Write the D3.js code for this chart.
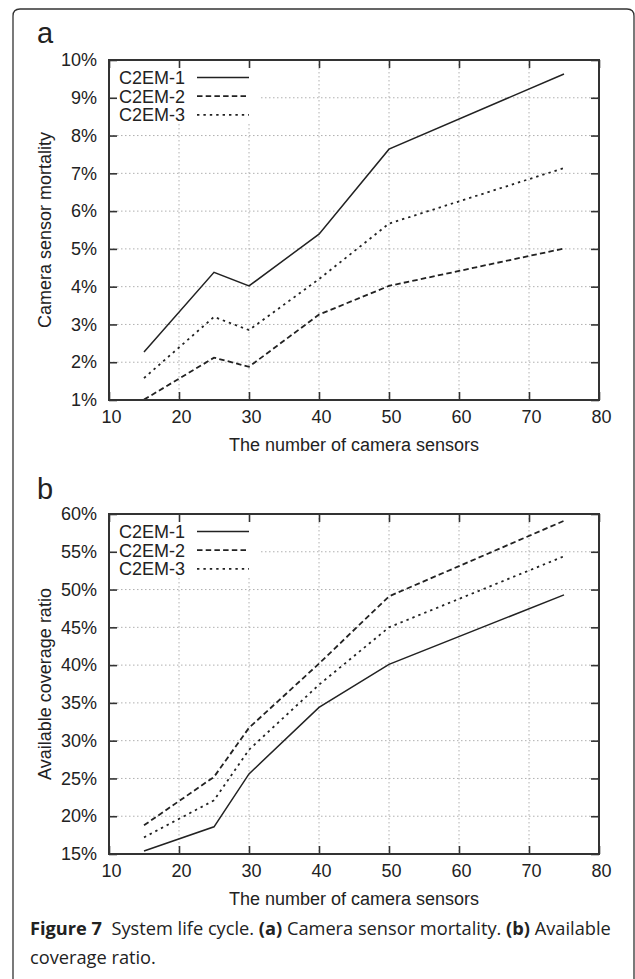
<!DOCTYPE html>
<html lang="en">
<head>
    <meta charset="UTF-8">
    <title>Figure 7</title>
    <style>
        body { margin: 0; background: #fff; }
        svg { display: block; }
        text { fill: #222; }
        .chart text { font-family: "Liberation Sans", Arial, Helvetica, sans-serif; }
        .chart text.caption { font-family: "Open Sans", "Noto Sans", sans-serif; }
    </style>
    <script src="https://d3js.org/d3.v7.min.js"></script>
</head>
<body>
    <div id="chart"></div>

    <script>
        // data
        const sensors = [15, 25, 30, 40, 50, 75]
        const seriesNames = ["C2EM-1", "C2EM-2", "C2EM-3"]

        const mortality1 = [2.27, 4.38, 4.02, 5.39, 7.64, 9.63]
        const mortality2 = [1.01, 2.12, 1.88, 3.26, 4.02, 5.01]
        const mortality3 = [1.58, 3.20, 2.85, 4.20, 5.67, 7.14]

        const coverage1 = [15.4, 18.6, 25.6, 34.4, 40.1, 49.3]
        const coverage2 = [18.8, 25.2, 31.7, 40.2, 49.1, 59.1]
        const coverage3 = [17.2, 22.1, 28.8, 37.4, 45.0, 54.4]

        const xTicks = [10, 20, 30, 40, 50, 60, 70, 80]
        const mortalityTicks = [1, 2, 3, 4, 5, 6, 7, 8, 9, 10]
        const coverageTicks = [15, 20, 25, 30, 35, 40, 45, 50, 55, 60]

        const W = 635, H = 979
        const plotLeft = 109, plotRight = 599
        const tickLen = 8
        const fontSize = "18px"

        // dash style per series
        const dashes = {
            "C2EM-1": null,
            "C2EM-2": "5.5,3.2",
            "C2EM-3": "2.4,4"
        }

        const svg = d3.select("#chart")
            .append("svg")
            .attr("class", "chart")
            .attr("width", W)
            .attr("height", H)

        // outer frame, rounded at the top, open at the bottom
        svg.append("path")
            .attr("d", "M13,979 V16 Q13,9 20,9 H627 Q634,9 634,16 V979")
            .attr("fill", "none")
            .attr("stroke", "#333")
            .attr("stroke-width", 1.3)

        const drawPanel = (opts) => {
            const x = d3.scaleLinear().domain([10, 80]).range([plotLeft, plotRight])
            const y = d3.scaleLinear().domain(opts.domain).range([opts.bottom, opts.top])
            const g = svg.append("g")

            // panel letter
            g.append("text")
                .attr("x", 37)
                .attr("y", opts.letterY)
                .style("font-size", "29px")
                .text(opts.letter)

            // grid lines
            g.append("g")
                .selectAll("line")
                .data(opts.yTicks.slice(1, -1))
                .join("line")
                .attr("x1", plotLeft).attr("x2", plotRight)
                .attr("y1", d => y(d)).attr("y2", d => y(d))
                .attr("stroke", "#b0b0b0")
                .attr("stroke-dasharray", "1.5,2.5")
            g.append("g")
                .selectAll("line")
                .data(xTicks.slice(1, -1))
                .join("line")
                .attr("x1", d => x(d)).attr("x2", d => x(d))
                .attr("y1", opts.top).attr("y2", opts.bottom)
                .attr("stroke", "#b0b0b0")
                .attr("stroke-dasharray", "1.5,2.5")

            // legend box hides the grid behind it
            g.append("rect")
                .attr("x", plotLeft)
                .attr("y", opts.top)
                .attr("width", 150)
                .attr("height", 64)
                .attr("fill", "#fff")

            // data lines
            const line = d3.line()
                .x(d => x(d[0]))
                .y(d => y(d[1]))

            opts.series.forEach((vals, i) => {
                const name = seriesNames[i]
                g.append("path")
                    .datum(sensors.map((s, k) => [s, vals[k]]))
                    .attr("d", line)
                    .attr("fill", "none")
                    .attr("stroke", "#222")
                    .attr("stroke-width", i === 0 ? 1.5 : 1.8)
                    .attr("stroke-dasharray", dashes[name])

                // legend entry
                const ly = opts.top + 17.5 + i * 18.7
                g.append("text")
                    .attr("x", 119)
                    .attr("y", ly)
                    .attr("dy", "0.35em")
                    .style("font-size", fontSize)
                    .text(name)
                g.append("line")
                    .attr("x1", 197).attr("x2", 249)
                    .attr("y1", ly).attr("y2", ly)
                    .attr("stroke", "#222")
                    .attr("stroke-width", i === 0 ? 1.5 : 1.8)
                    .attr("stroke-dasharray", dashes[name])
            })

            // axes with inward ticks on all four sides
            const bottomAxis = d3.axisBottom(x).tickValues(xTicks).tickSizeInner(-tickLen).tickSizeOuter(0).tickPadding(10)
            const topAxis = d3.axisTop(x).tickValues(xTicks).tickSizeInner(-tickLen).tickSizeOuter(0).tickFormat("")
            const leftAxis = d3.axisLeft(y).tickValues(opts.yTicks).tickSizeInner(-tickLen).tickSizeOuter(0)
                .tickPadding(12).tickFormat(d => d + "%")
            const rightAxis = d3.axisRight(y).tickValues(opts.yTicks).tickSizeInner(-tickLen).tickSizeOuter(0).tickFormat("")

            const styleAxis = (sel) => {
                sel.select(".domain").remove()
                sel.selectAll("line").attr("stroke", "#333").attr("stroke-width", 1.6)
                sel.selectAll("text")
                    .style("font-size", fontSize)
                    .attr("fill", "#222")
            }

            g.append("g").attr("transform", `translate(0,${opts.bottom})`).call(bottomAxis).call(styleAxis)
                .selectAll("text").attr("dx", "2")
            g.append("g").attr("transform", `translate(0,${opts.top})`).call(topAxis).call(styleAxis)
            g.append("g").attr("transform", `translate(${plotLeft},0)`).call(leftAxis).call(styleAxis)
            g.append("g").attr("transform", `translate(${plotRight},0)`).call(rightAxis).call(styleAxis)

            // plot frame
            g.append("rect")
                .attr("x", plotLeft).attr("y", opts.top)
                .attr("width", plotRight - plotLeft)
                .attr("height", opts.bottom - opts.top)
                .attr("fill", "none")
                .attr("stroke", "#333")
                .attr("stroke-width", 2)

            // axis titles
            g.append("text")
                .attr("x", (plotLeft + plotRight) / 2)
                .attr("y", opts.bottom + 51)
                .attr("text-anchor", "middle")
                .style("font-size", fontSize)
                .text("The number of camera sensors")
            g.append("text")
                .attr("transform", `translate(51,${(opts.top + opts.bottom) / 2}) rotate(-90)`)
                .attr("text-anchor", "middle")
                .style("font-size", fontSize)
                .text(opts.yLabel)
        }

        drawPanel({
            letter: "a", letterY: 43,
            top: 60, bottom: 400,
            domain: [1, 10], yTicks: mortalityTicks,
            yLabel: "Camera sensor mortality",
            series: [mortality1, mortality2, mortality3]
        })

        drawPanel({
            letter: "b", letterY: 499,
            top: 514, bottom: 854,
            domain: [15, 60], yTicks: coverageTicks,
            yLabel: "Available coverage ratio",
            series: [coverage1, coverage2, coverage3]
        })

        // figure caption; first line spans 30..611 in the original
        const capSize = 16
        const cap = svg.append("text")
            .attr("class", "caption")
            .attr("x", 30)
            .attr("y", 935)
            .style("font-size", capSize + "px")
        cap.append("tspan").style("font-weight", "bold").text("Figure 7")
        cap.append("tspan").text("\u00a0 System life cycle. ")
        cap.append("tspan").style("font-weight", "bold").text("(a)")
        cap.append("tspan").text(" Camera sensor mortality. ")
        cap.append("tspan").style("font-weight", "bold").text("(b)")
        cap.append("tspan").text(" Available")

        const fitSize = capSize * 581 / cap.node().getComputedTextLength()
        cap.style("font-size", fitSize + "px")

        svg.append("text")
            .attr("class", "caption")
            .attr("x", 30)
            .attr("y", 964)
            .style("font-size", fitSize + "px")
            .text("coverage ratio.")
    </script>
</body>
</html>
